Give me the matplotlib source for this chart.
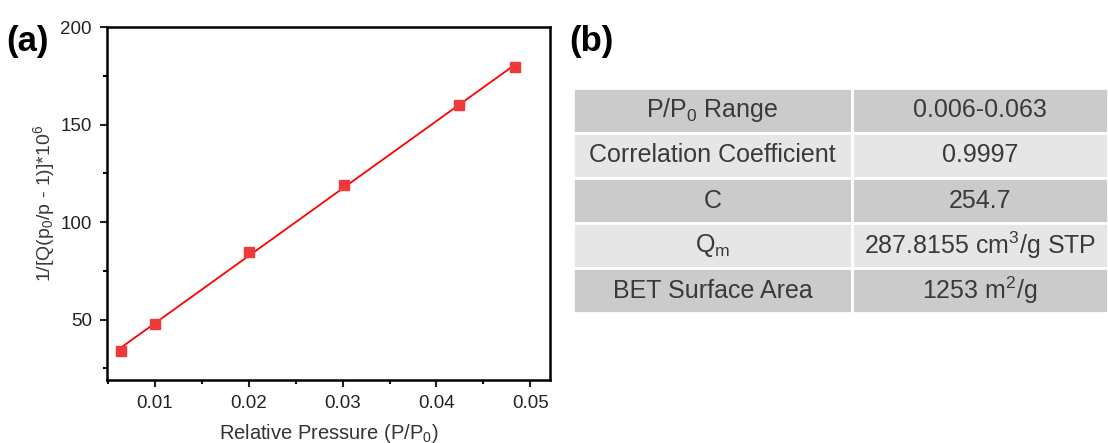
import numpy as np
import matplotlib
matplotlib.use("Agg")
import matplotlib.pyplot as plt
from matplotlib.ticker import MultipleLocator

plt.rcParams['font.family'] = ['Liberation Sans', 'DejaVu Sans']
plt.rcParams['mathtext.fontset'] = 'custom'
plt.rcParams['mathtext.rm'] = 'Liberation Sans'
plt.rcParams['mathtext.it'] = 'Liberation Sans:italic'

# BET plot data
rel_pressure = [0.0064, 0.0100, 0.0200, 0.0301, 0.0424, 0.0484]
bet_values = [34.0, 48.0, 84.5, 119.0, 160.0, 179.5]

# Table data
row_labels = ["P/P$_0$ Range", "Correlation Coefficient", "C", "Q$_\\mathrm{m}$", "BET Surface Area"]
row_values = ["0.006-0.063", "0.9997", "254.7", "287.8155 cm$^3$/g STP", "1253 m$^2$/g"]

fig = plt.figure(figsize=(11.08, 4.43), dpi=100)

# (a) BET linear plot
ax = fig.add_axes([0.0966, 0.142, 0.3998, 0.797])
slope, intercept = np.polyfit(rel_pressure, bet_values, 1)
xfit = np.array([min(rel_pressure), max(rel_pressure)])
ax.plot(xfit, slope * xfit + intercept, color='red', lw=1.3, zorder=2)
ax.plot(rel_pressure, bet_values, 's', color='#f03a3a', ms=6.5, zorder=3)

ax.set_xlim(0.0049, 0.0521)
ax.set_ylim(19, 200)
ax.xaxis.set_minor_locator(MultipleLocator(0.005))
ax.yaxis.set_major_locator(MultipleLocator(50))
ax.yaxis.set_minor_locator(MultipleLocator(25))
ax.set_xticks([0.01, 0.02, 0.03, 0.04, 0.05])
ax.set_xticklabels(["0.01", "0.02", "0.03", "0.04", "0.05"])
ax.tick_params(which='major', direction='out', length=5, width=1.5, labelsize=13.5, colors='#222222', pad=6)
ax.tick_params(which='minor', direction='out', length=3, width=1.5)
for s in ax.spines.values():
    s.set_linewidth(1.8)
ax.set_xlabel("Relative Pressure (P/P$_0$)", fontsize=14.5, color='#333333', labelpad=7)
ax.set_ylabel("1/[Q(p$_0$/p - 1)]*10$^6$", fontsize=14, color='#3a3a3a', labelpad=2)

fig.text(0.006, 0.885, "(a)", fontsize=25, fontweight='bold')
fig.text(0.514, 0.885, "(b)", fontsize=25, fontweight='bold')

# (b) summary table
tax = fig.add_axes([573 / 1108, 1 - 313 / 443, 535 / 1108, 225 / 443])
tax.axis('off')
cell_text = [[lab, val] for lab, val in zip(row_labels, row_values)]
colors = []
for i in range(len(row_labels)):
    c = '#cbcbcb' if i % 2 == 0 else '#e6e6e6'
    colors.append([c, c])
tbl = tax.table(cellText=cell_text, cellColours=colors, cellLoc='center',
                colWidths=[279 / 535, 256 / 535], bbox=[0, 0, 1, 1])
tbl.auto_set_font_size(False)
for (r, c), cell in tbl.get_celld().items():
    cell.set_edgecolor('white')
    cell.set_linewidth(2)
    cell.get_text().set_fontsize(18)
    cell.get_text().set_color('#3a3a3a')

fig.savefig("out.png", dpi=100)
